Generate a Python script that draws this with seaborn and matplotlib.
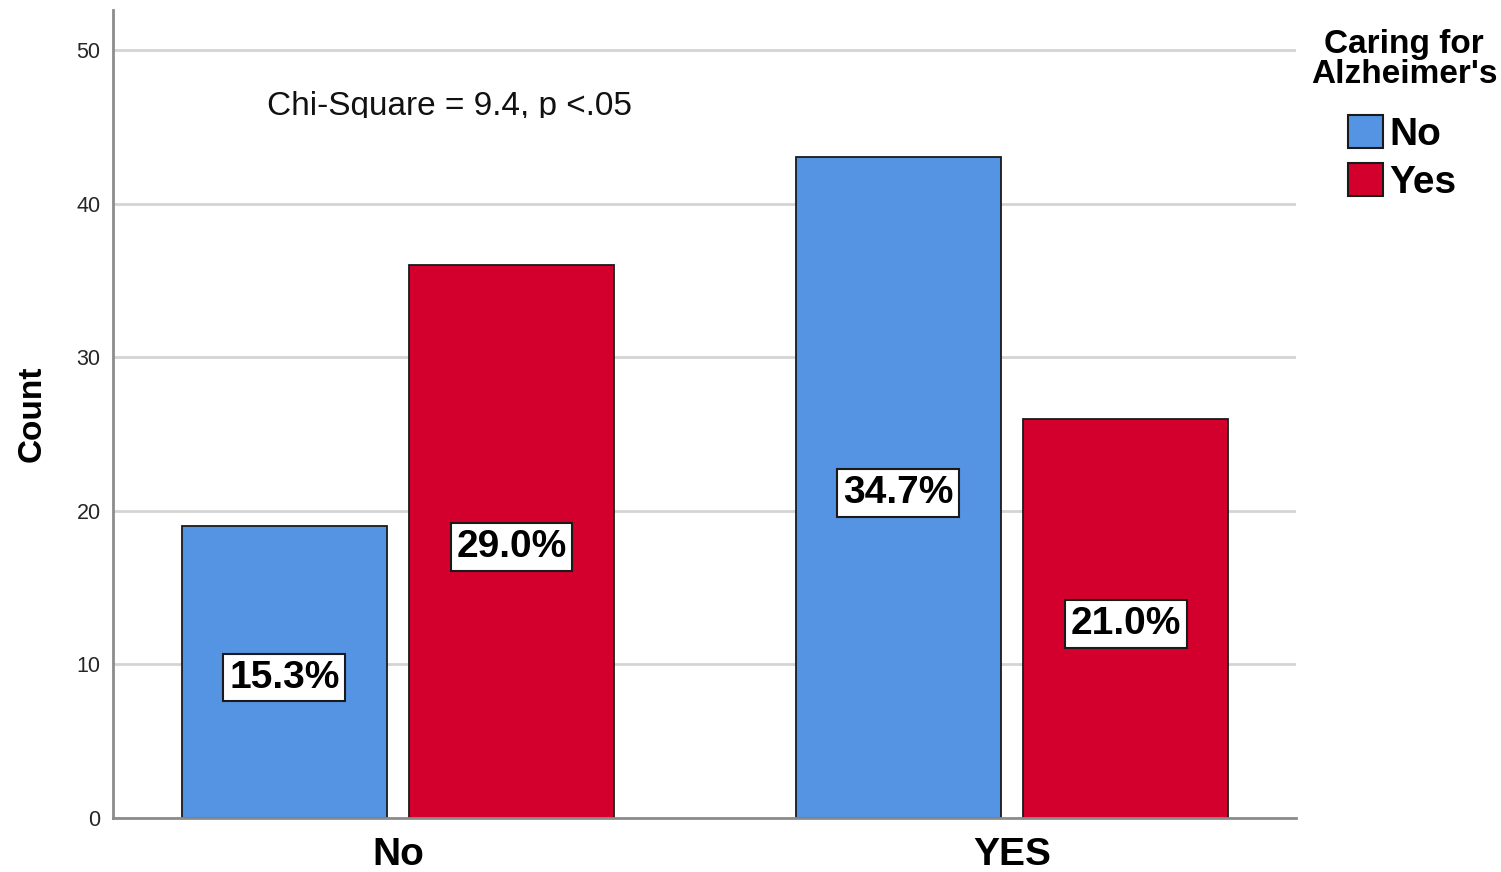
import matplotlib
matplotlib.use("Agg")
import matplotlib.pyplot as plt
from matplotlib.patches import Patch, Rectangle
import seaborn as sns
import pandas as pd

# ---- data ----
groups = ["No", "YES"]
caring_levels = ["No", "Yes"]
counts_no_caring = [19, 43]      # Caring for Alzheimer's = No
counts_yes_caring = [36, 26]     # Caring for Alzheimer's = Yes
pct_no_caring = ["15.3%", "34.7%"]
pct_yes_caring = ["29.0%", "21.0%"]
y_ticks = [0, 10, 20, 30, 40, 50]
annotation = "Chi-Square = 9.4, p <.05"
legend_title = "Caring for\nAlzheimer's"

colors = ["#5593E3", "#D3002E"]

df = pd.DataFrame({
    "group": groups * 2,
    "caring": [caring_levels[0]] * 2 + [caring_levels[1]] * 2,
    "count": counts_no_caring + counts_yes_caring,
})

sns.set_style("white")
plt.rcParams["font.family"] = ["Liberation Sans", "DejaVu Sans"]

fig = plt.figure(figsize=(15.01, 8.72), dpi=100)
ax = fig.add_axes([113 / 1501, 1 - 818 / 872, (1296 - 113) / 1501, (818 - 10) / 872])

sns.barplot(data=df, x="group", y="count", hue="caring", order=groups,
            hue_order=caring_levels, palette=colors, width=0.74, gap=0.1,
            edgecolor="#1a1a1a", linewidth=1.3, ax=ax, legend=False,
            saturation=1)

ax.set_xlim(-0.464, 1.4625)
ax.set_ylim(0, 52.6)
ax.set_yticks(y_ticks)
ax.yaxis.grid(True, color="#d4d4d4", linewidth=2)
ax.set_axisbelow(True)

for side in ["top", "right"]:
    ax.spines[side].set_visible(False)
for side in ["left", "bottom"]:
    ax.spines[side].set_color("#8c8c8c")
    ax.spines[side].set_linewidth(2)

ax.tick_params(axis="y", length=0, pad=9, labelsize=15.5, labelcolor="#262626")
ax.tick_params(axis="x", length=0, pad=14, labelsize=28, labelcolor="black")
for lbl in ax.get_xticklabels():
    lbl.set_fontweight("bold")

ax.set_xlabel("")
ax.set_ylabel("Count", fontsize=24, fontweight="bold", labelpad=21, color="black")

# percentage labels
label_sets = [pct_no_caring, pct_yes_caring]
for cont, labs in zip(ax.containers, label_sets):
    ax.bar_label(cont, labels=labs, label_type="center", fontsize=28,
                 fontweight="bold", color="black", padding=-4,
                 bbox=dict(boxstyle="square,pad=0.15", fc="white",
                           ec="#1a1a1a", lw=1.5))

# chi-square annotation (clipped at bottom like the original)
t = fig.text(267 / 1501, 1 - 115 / 872, annotation, fontsize=24,
             ha="left", va="baseline", color="#111111")
clip = Rectangle((0, 1 - 118 / 872), 1, 118 / 872, transform=fig.transFigure,
                 visible=False)
fig.add_artist(clip)
t.set_clip_path(clip)

# legend title
fig.text(1404 / 1501, 1 - 29 / 872, legend_title, fontsize=24, fontweight="bold",
         ha="center", va="top", multialignment="center", linespacing=0.97,
         color="black")

# legend entries
handles = [Patch(facecolor=c, edgecolor="#1a1a1a", linewidth=1.5) for c in colors]
leg = fig.legend(handles, caring_levels,
                 loc="upper center", bbox_to_anchor=(1402 / 1501, 1 - 96 / 872),
                 frameon=False, fontsize=28,
                 handlelength=0.92, handleheight=0.92, handletextpad=0.15,
                 labelspacing=0.25, borderpad=0)
for txt in leg.get_texts():
    txt.set_fontweight("bold")
    txt.set_color("black")

fig.savefig("out.png", dpi=100)
